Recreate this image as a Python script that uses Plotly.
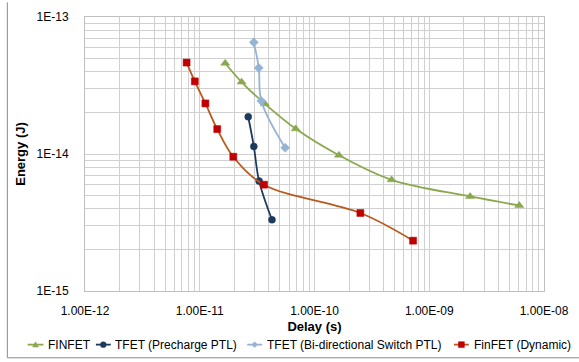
import plotly.graph_objects as go

# ---------------- data ----------------
finfet_delay = [1.667e-11, 2.316e-11, 3.69e-11, 6.86e-11, 1.633e-10, 4.70e-10, 2.27e-9, 6.09e-9]
finfet_energy = [4.60e-14, 3.35e-14, 2.325e-14, 1.527e-14, 9.80e-15, 6.48e-15, 4.90e-15, 4.21e-15]

tfet_pre_delay = [2.645e-11, 2.96e-11, 3.29e-11, 4.26e-11]
tfet_pre_energy = [1.87e-14, 1.136e-14, 6.34e-15, 3.31e-15]

tfet_bi_delay = [2.96e-11, 3.27e-11, 3.44e-11, 5.55e-11]
tfet_bi_energy = [6.53e-14, 4.25e-14, 2.44e-14, 1.11e-14]

finfet_dyn_delay = [7.68e-12, 9.06e-12, 1.12e-11, 1.42e-11, 1.96e-11, 3.63e-11, 2.51e-10, 7.23e-10]
finfet_dyn_energy = [4.65e-14, 3.39e-14, 2.34e-14, 1.52e-14, 9.55e-15, 5.97e-15, 3.71e-15, 2.33e-15]

series_names = ["FINFET", "TFET (Precharge PTL)", "TFET (Bi-directional Switch PTL)", "FinFET (Dynamic)"]

x_tickvals = [1e-12, 1e-11, 1e-10, 1e-9, 1e-8]
x_ticktext = ["1.00E-12", "1.00E-11", "1.00E-10", "1.00E-09", "1.00E-08"]
y_tickvals = [1e-15, 1e-14, 1e-13]
y_ticktext = ["1E-15", "1E-14", "1E-13"]

# ---------------- style ----------------
FONT = "Liberation Sans, Arial, sans-serif"
GREEN = "#8AA84E"
NAVY = "#1C3A5E"
LBLUE = "#95B3D7"
RED_M = "#C00000"
RED_L = "#B85A1E"
GRID = "#D0D0D0"

W, H = 579, 362
L, R, T, B = 85, 30, 10, 71
PW, PH = W - L - R, H - T - B


def px(x):
    return (x - L) / PW


def py(y):
    return (H - B - y) / PH


fig = go.Figure()

specs = [
    (finfet_delay, finfet_energy, GREEN, GREEN, "triangle-up", 8),
    (tfet_pre_delay, tfet_pre_energy, NAVY, NAVY, "circle", 7),
    (tfet_bi_delay, tfet_bi_energy, LBLUE, LBLUE, "diamond", 7),
    (finfet_dyn_delay, finfet_dyn_energy, RED_L, RED_M, "square", 7),
]
for (xs, ys, lc, mc, sym, ms), name in zip(specs, series_names):
    fig.add_trace(go.Scatter(
        x=xs, y=ys, name=name, mode="lines+markers",
        line=dict(color=lc, width=1.8, shape="spline", smoothing=1.0),
        marker=dict(color=mc, symbol=sym, size=ms,
                    line=dict(color=mc, width=0.5)),
        showlegend=False,
    ))

axis_common = dict(
    type="log",
    showgrid=True, gridcolor=GRID, gridwidth=1,
    showline=True, linecolor="#BFBFBF", linewidth=1, mirror=True,
    ticks="", zeroline=False,
    tickfont=dict(family=FONT, size=12, color="#000"),
    minor=dict(showgrid=True, gridcolor=GRID, gridwidth=1, dtick="D1", ticks=""),
)

fig.update_xaxes(
    **axis_common,
    range=[-12, -8],
    tickvals=x_tickvals, ticktext=x_ticktext,
    ticklabelstandoff=9,
    title=dict(text="<b>Delay (s)</b>", font=dict(family=FONT, size=13, color="#000"),
               standoff=4),
)
fig.update_yaxes(
    **axis_common,
    range=[-15, -13],
    tickvals=y_tickvals, ticktext=y_ticktext,
    ticklabelstandoff=13,
    title=dict(text="<b>Energy (J)</b>", font=dict(family=FONT, size=13, color="#000"),
               standoff=8),
)

# ---- manual legend (bottom row) ----
shapes = []
annotations = []
leg_y = 346
leg_items = [
    (27, 43, 46, GREEN, GREEN, "tri"),
    (96, 111, 113, NAVY, NAVY, "circ"),
    (249, 264, 267, LBLUE, LBLUE, "diam"),
    (458, 473, 476, RED_L, RED_M, "sq"),
]
for (x0, x1, tx, lc, mc, kind), name in zip(leg_items, series_names):
    shapes.append(dict(type="line", xref="paper", yref="paper",
                       x0=px(x0), x1=px(x1), y0=py(leg_y), y1=py(leg_y),
                       line=dict(color=lc, width=1.8)))
    cx = (x0 + x1) / 2
    s = 3
    if kind == "tri":
        path = "M {} {} L {} {} L {} {} Z".format(px(cx - s), py(leg_y + 2.5), px(cx + s), py(leg_y + 2.5), px(cx), py(leg_y - 3))
        shapes.append(dict(type="path", xref="paper", yref="paper", path=path,
                           fillcolor=mc, line=dict(color=mc, width=0.5)))
    elif kind == "diam":
        path = "M {} {} L {} {} L {} {} L {} {} Z".format(px(cx - s), py(leg_y), px(cx), py(leg_y - s), px(cx + s), py(leg_y), px(cx), py(leg_y + s))
        shapes.append(dict(type="path", xref="paper", yref="paper", path=path,
                           fillcolor=mc, line=dict(color=mc, width=0.5)))
    elif kind == "circ":
        shapes.append(dict(type="circle", xref="paper", yref="paper",
                           x0=px(cx - s), x1=px(cx + s), y0=py(leg_y + s), y1=py(leg_y - s),
                           fillcolor=mc, line=dict(color=mc, width=0.5)))
    else:
        shapes.append(dict(type="rect", xref="paper", yref="paper",
                           x0=px(cx - s), x1=px(cx + s), y0=py(leg_y + s), y1=py(leg_y - s),
                           fillcolor=mc, line=dict(color=mc, width=0.5)))
    annotations.append(dict(text=name, xref="paper", yref="paper",
                            x=px(tx), y=py(leg_y), xanchor="left", yanchor="middle",
                            showarrow=False,
                            font=dict(family=FONT, size=12, color="#000")))

# outer chart border (left and bottom visible)
shapes.append(dict(type="line", xref="paper", yref="paper",
                   x0=px(6.5), x1=px(6.5), y0=py(-5), y1=py(359.5),
                   line=dict(color="#8C8C8C", width=1)))
shapes.append(dict(type="line", xref="paper", yref="paper",
                   x0=px(6.5), x1=px(590), y0=py(359.5), y1=py(359.5),
                   line=dict(color="#8C8C8C", width=1)))

fig.update_layout(
    width=W, height=H,
    margin=dict(l=L, r=R, t=T, b=B),
    paper_bgcolor="white", plot_bgcolor="white",
    showlegend=False,
    shapes=shapes,
    annotations=annotations,
    font=dict(family=FONT, size=12, color="#000"),
)

fig.write_html("out.html")
